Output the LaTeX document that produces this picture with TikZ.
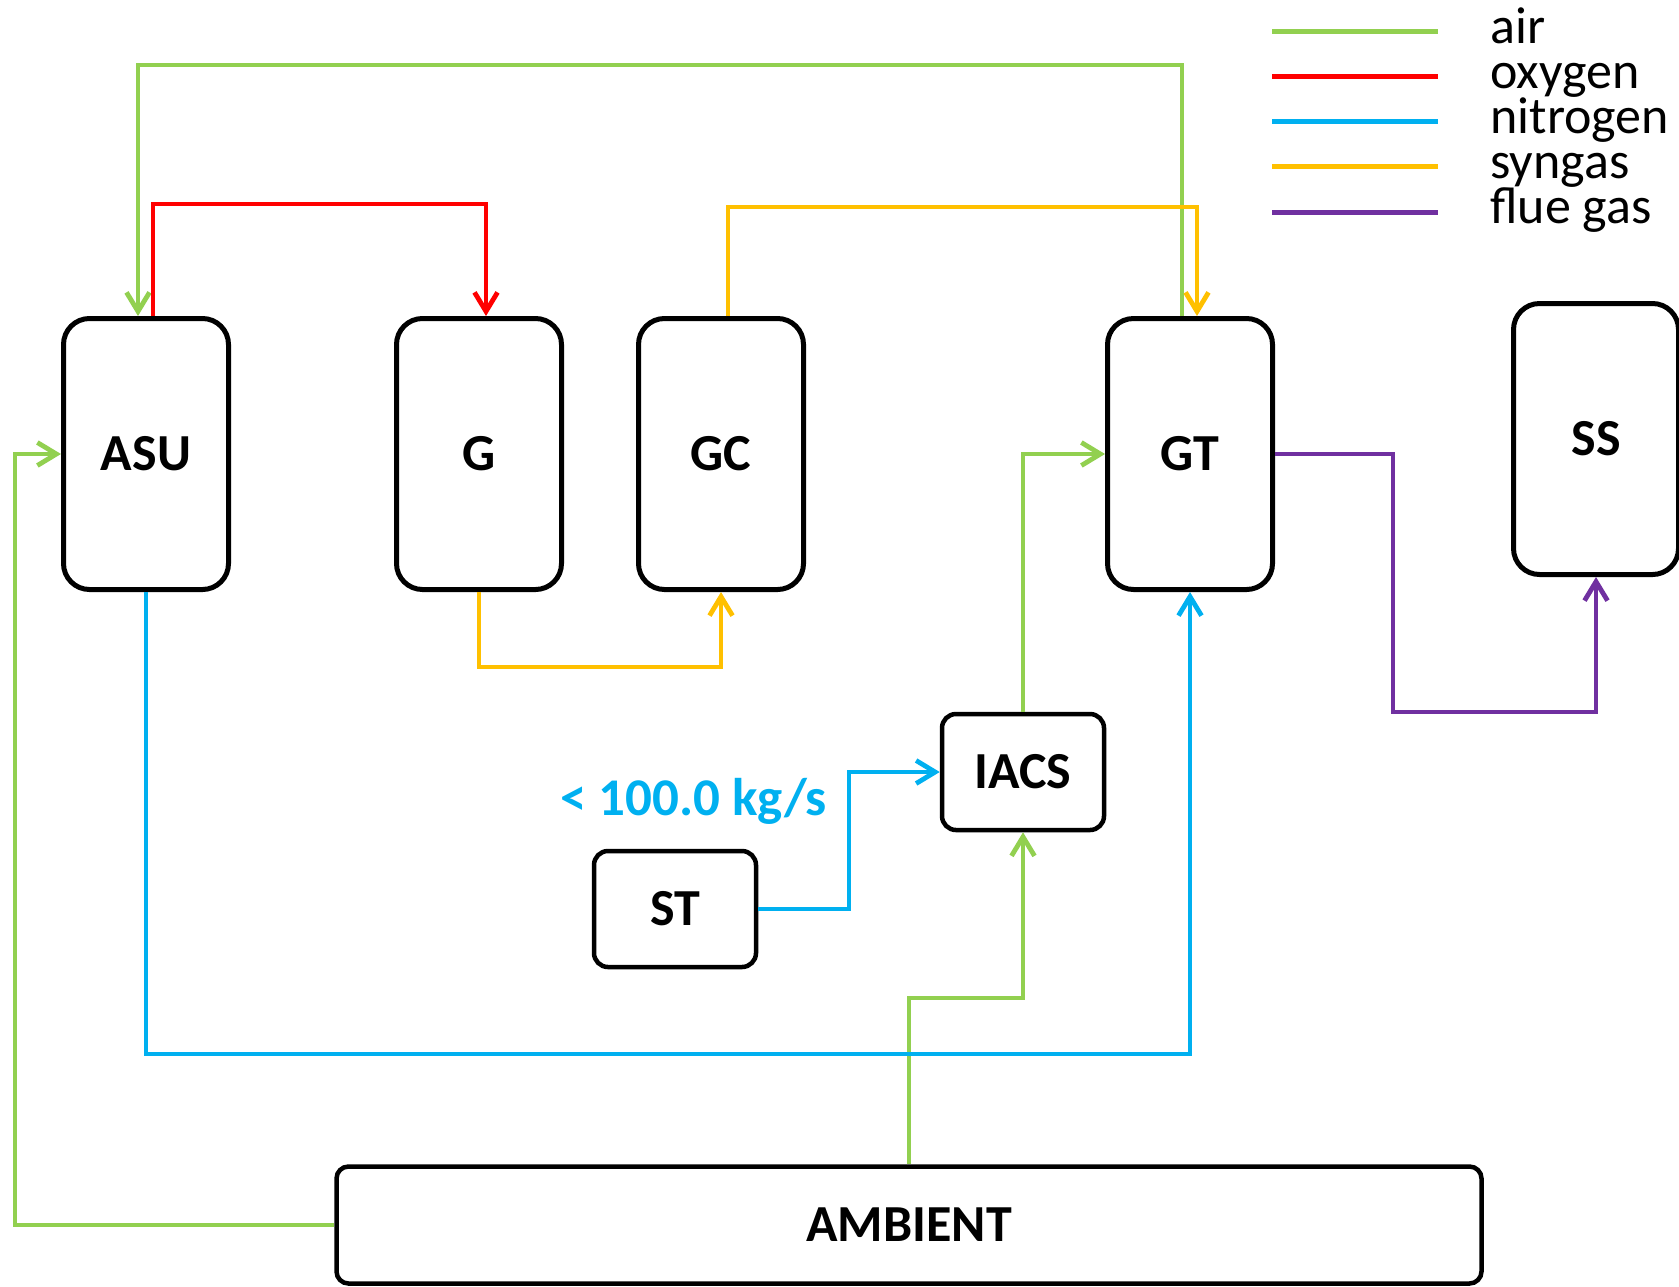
\documentclass[tikz,border=0pt]{standalone}
\usepackage{fontspec}
\setmainfont{Carlito}
\usetikzlibrary{arrows.meta,positioning,calc}

\definecolor{airgreen}{HTML}{92D050}
\definecolor{oxyred}{HTML}{FF0000}
\definecolor{nitblue}{HTML}{00B0F0}
\definecolor{synyellow}{HTML}{FFC000}
\definecolor{fluepurple}{HTML}{7030A0}

\begin{document}
\begin{tikzpicture}[
  x=0.5pt, y=-0.5pt,
  font=\fontsize{26}{31}\selectfont,
  >={Straight Barb[length=9.5pt,width=11.5pt]},
  plant/.style={draw, line width=2.5pt, rounded corners=13pt, inner sep=0pt,
                minimum width=82.5pt, minimum height=135.5pt,
                font=\fontsize{26}{31}\selectfont\bfseries},
  aux/.style={draw, line width=2.25pt, rounded corners=7pt, inner sep=0pt,
              minimum width=81pt, minimum height=58pt,
              font=\fontsize{26}{31}\selectfont\bfseries},
  ambient/.style={draw, line width=2.25pt, rounded corners=6pt, inner sep=0pt,
                  minimum width=572.5pt, minimum height=58.5pt,
                  font=\fontsize{26}{31}\selectfont\bfseries},
  air/.style={airgreen, line width=2.4pt},
  oxygen/.style={oxyred, line width=2.4pt},
  nitrogen/.style={nitblue, line width=2.4pt},
  syngas/.style={synyellow, line width=2.4pt},
  fluegas/.style={fluepurple, line width=2.4pt},
  ratelabel/.style={nitblue, font=\fontsize{26.5}{31}\selectfont\bfseries}
]
\useasboundingbox (0,0) rectangle (1679,1286);

% Process units
\node[plant] (ASU) at (146,454) {ASU};
\node[plant] (G)   at (479,454) {G};
\node[plant] (GC)  at (721,454) {GC};
\node[plant] (GT)  at (1190,454) {GT};
\node[plant] (SS)  at (1596,439) {SS};
\node[aux] (IACS) at (1023,772) {IACS};
\node[aux] (ST)   at (675,909) {ST};
\node[ambient] (AMB) at (909,1225) {AMBIENT};

% Bend points of the routed lines
\coordinate (airtop)  at (600,65);
\coordinate (oxytop)  at (300,204);
\coordinate (syntop)  at (900,207);
\coordinate (synlow)  at (600,667);
\coordinate (nitlow)  at (600,1054);
\coordinate (airleft) at (15,800);
\coordinate (airmid)  at (960,998);
\coordinate (stbend)  at (849,840);
\coordinate (fluemid) at (1393,712);

% Air
\draw[air,->] ($(GT.north)+(-8,0)$) |- (airtop) -| ($(ASU.north)+(-8,0)$);
\draw[air,->] (AMB.west) -| (airleft) |- (ASU.west);
\draw[air,->] (AMB.north) |- (airmid) -| (IACS.south);
\draw[air,->] (IACS.north) |- (GT.west);

% Oxygen
\draw[oxygen,->] ($(ASU.north)+(7,0)$) |- (oxytop) -| ($(G.north)+(7,0)$);

% Syngas
\draw[syngas,->] ($(GC.north)+(7,0)$) |- (syntop) -| ($(GT.north)+(7,0)$);
\draw[syngas,->] (G.south) |- (synlow) -| (GC.south);

% Nitrogen
\draw[nitrogen,->] (ASU.south) |- (nitlow) -| (GT.south);
\draw[nitrogen,->] (ST.east) -| (stbend) |- (IACS.west);
\node[ratelabel, anchor=base east] (rate) at (834,815) {< 100.0 kg/s};

% Flue gas
\draw[fluegas,->] (GT.east) -| (fluemid) -| (SS.south);

% Legend
\foreach \y/\c in {31/airgreen, 76/oxyred, 121/nitblue, 166/synyellow,
    212/fluepurple} {
  \draw[\c, line width=2.5pt] (1272,\y) -- (1438,\y);
}
\node[anchor=base west, inner sep=0pt, align=left,
      font=\fontsize{26}{22.5}\selectfont] (legend) at (1490,223)
  {air\\oxygen\\nitrogen\\syngas\\flue gas};

\end{tikzpicture}
\end{document}
